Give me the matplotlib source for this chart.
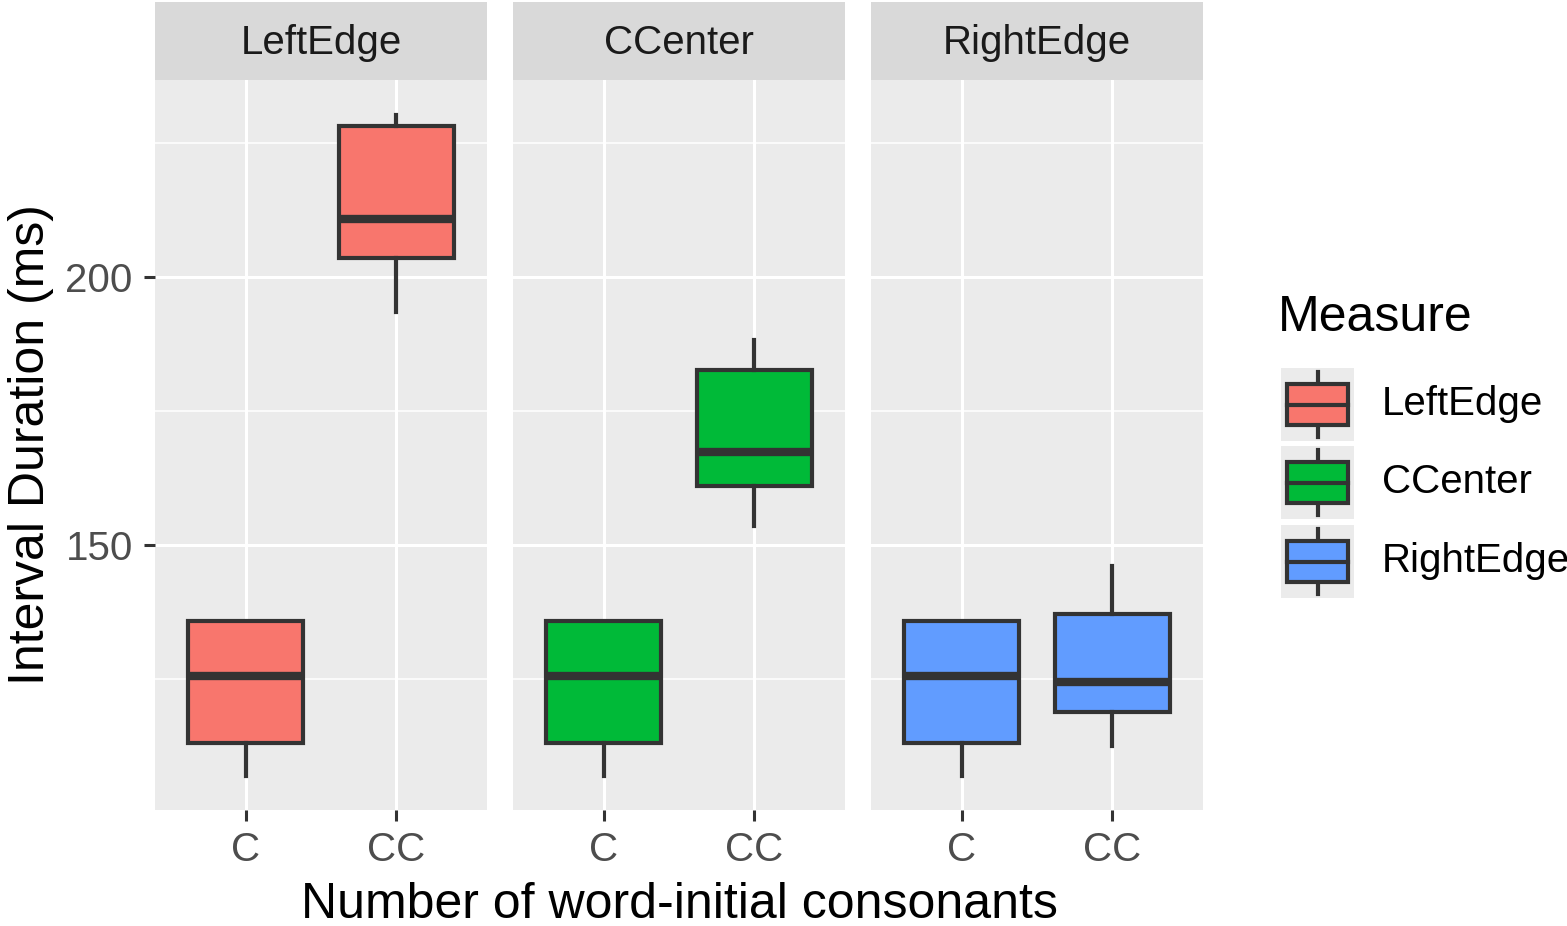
import matplotlib.pyplot as plt
from matplotlib.patches import Rectangle
from matplotlib.lines import Line2D

plt.rcParams['font.family'] = ['Liberation Sans', 'DejaVu Sans']

# data
measures = ["LeftEdge", "CCenter", "RightEdge"]
groups = ["C", "CC"]
colors = ["#F8766D", "#00BA38", "#619CFF"]
# per measure, per group: whisker low, q1, median, q3, whisker high
whislo = [[106.9, 193.5], [106.9, 153.5], [106.9, 112.5]]
q1 = [[113.1, 203.5], [113.1, 161.0], [113.1, 118.8]]
med = [[125.6, 210.8], [125.6, 167.4], [125.6, 124.4]]
q3 = [[135.8, 228.2], [135.8, 182.6], [135.8, 137.1]]
whishi = [[135.8, 230.2], [135.8, 188.2], [135.8, 146.1]]

W, H = 1567, 926
fig = plt.figure(figsize=(W / 100, H / 100), dpi=100)

panel_x = [155, 513, 871]
pw = 332
top, bottom = 80, 810
edge = "#333333"
ylim = (100.6, 236.75)

for i, m in enumerate(measures):
    ax = fig.add_axes([panel_x[i] / W, 1 - bottom / H, pw / W, (bottom - top) / H])
    ax.set_facecolor("#EBEBEB")
    for s in ax.spines.values():
        s.set_visible(False)
    ax.set_xlim(0.4, 2.6)
    ax.set_ylim(*ylim)
    for y in [125, 175, 225]:
        ax.axhline(y, color="white", lw=1.1, zorder=0)
    for y in [150, 200]:
        ax.axhline(y, color="white", lw=2.2, zorder=0)
    for x in [1, 2]:
        ax.axvline(x, color="white", lw=2.2, zorder=0)
    stats = []
    for j in range(2):
        stats.append(dict(whislo=whislo[i][j], q1=q1[i][j], med=med[i][j],
                          q3=q3[i][j], whishi=whishi[i][j], fliers=[]))
    ax.bxp(stats, positions=[1, 2], widths=0.76, patch_artist=True, showcaps=False,
           boxprops=dict(facecolor=colors[i], edgecolor=edge, linewidth=3),
           medianprops=dict(color=edge, linewidth=6, solid_capstyle="butt"),
           whiskerprops=dict(color=edge, linewidth=3), manage_ticks=False)
    ax.set_xticks([1, 2])
    ax.set_xticklabels(groups)
    ax.tick_params(axis="x", colors=edge, labelcolor="#4D4D4D", labelsize=29,
                   length=8, width=2.2, pad=7)
    if i == 0:
        ax.set_yticks([150, 200])
        ax.tick_params(axis="y", colors=edge, labelcolor="#4D4D4D", labelsize=29,
                       length=8, width=2.2, pad=8)
        ax.set_ylabel("Interval Duration (ms)", fontsize=36, labelpad=8)
    else:
        ax.set_yticks([150, 200])
        ax.tick_params(axis="y", length=0, labelleft=False)
    # strip
    sax = fig.add_axes([panel_x[i] / W, 1 - top / H, pw / W, (top - 2) / H])
    sax.set_facecolor("#D9D9D9")
    sax.set_xticks([])
    sax.set_yticks([])
    for s in sax.spines.values():
        s.set_visible(False)
    sax.text(0.5, 0.47, m, ha="center", va="center", fontsize=29, color="#1A1A1A",
             transform=sax.transAxes)

fig.text((155 + 1203) / 2 / W, 1 - 905 / H, "Number of word-initial consonants",
         ha="center", va="center", fontsize=36)

# legend
fig.text(1278 / W, 1 - 318 / H, "Measure", ha="left", va="center", fontsize=36)
key_y = [404, 482, 561]
for k, m in enumerate(measures):
    cy = key_y[k]
    lax = fig.add_axes([1281 / W, 1 - (cy + 37) / H, 73 / W, 73 / H])
    lax.set_xlim(0, 1)
    lax.set_ylim(0, 1)
    lax.set_facecolor("#EBEBEB")
    lax.set_xticks([])
    lax.set_yticks([])
    for s in lax.spines.values():
        s.set_visible(False)
    lax.add_line(Line2D([0.5, 0.5], [0.05, 0.95], color=edge, lw=3))
    lax.add_patch(Rectangle((0.08, 0.22), 0.84, 0.56, facecolor=colors[k],
                            edgecolor=edge, lw=3, zorder=3))
    lax.add_line(Line2D([0.08, 0.92], [0.5, 0.5], color=edge, lw=3, zorder=4))
    fig.text(1382 / W, 1 - cy / H, m, ha="left", va="center", fontsize=29)

fig.savefig("out.png", dpi=100)
